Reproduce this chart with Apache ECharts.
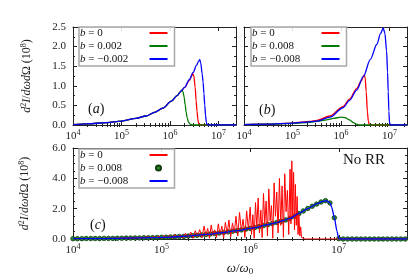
<!DOCTYPE html>
<html><head><meta charset="utf-8">
<script src="https://cdn.jsdelivr.net/npm/echarts@6/dist/echarts.min.js"></script>
<style>html,body{margin:0;padding:0;background:#fff}#c{width:415px;height:277px}</style>
</head><body><div id="c"></div>
<script>
const FONT = 'Liberation Serif';
const RED = '#ff0000', GREEN = '#007a00', BLUE = '#0000ff';

// ---------- Panel (a): omega values and d2I/dwdO (1e8) ----------
const aRedW   = [1e4, 2e4, 5e4, 1e5, 2e5, 3.2e5, 5e5, 7.1e5, 1.07e6, 1.4e6, 1.7e6, 2.0e6, 2.5e6, 2.8e6, 2.96e6, 3.1e6, 3.3e6, 3.45e6, 3.6e6, 3.75e6, 3.9e6, 4.1e6, 2.3e7];
const aRedI   = [0.01, 0.03, 0.06, 0.10, 0.17, 0.23, 0.33, 0.43, 0.61, 0.75, 0.87, 0.96, 1.14, 1.25, 1.31, 1.25, 0.96, 0.62, 0.35, 0.14, 0.03, 0.0, 0.0];
const aGreenW = [1e4, 2e4, 5e4, 1e5, 2e5, 3.2e5, 5e5, 7.1e5, 1.07e6, 1.4e6, 1.6e6, 1.76e6, 1.85e6, 1.95e6, 2.05e6, 2.15e6, 2.25e6, 2.4e6, 2.6e6, 2.9e6, 2.3e7];
const aGreenI = [0.01, 0.03, 0.06, 0.10, 0.17, 0.23, 0.33, 0.43, 0.61, 0.75, 0.83, 0.89, 0.85, 0.72, 0.52, 0.33, 0.19, 0.07, 0.02, 0.0, 0.0];
const aBlueW  = [1e4, 2e4, 5e4, 1e5, 2e5, 3.2e5, 5e5, 7.1e5, 1.07e6, 1.4e6, 1.7e6, 2.0e6, 2.5e6, 3.0e6, 3.5e6, 3.9e6, 4.1e6, 4.3e6, 4.6e6, 4.8e6, 5.0e6, 5.2e6, 5.4e6, 5.6e6, 5.8e6, 6.2e6, 2.3e7];
const aBlueI  = [0.01, 0.03, 0.06, 0.10, 0.17, 0.23, 0.33, 0.43, 0.61, 0.75, 0.87, 0.96, 1.16, 1.34, 1.52, 1.63, 1.67, 1.58, 1.30, 1.10, 0.80, 0.50, 0.25, 0.07, 0.01, 0.0, 0.0];

// ---------- Panel (b) ----------
const bRedW   = [1e4, 3e4, 1e5, 2.3e5, 3.2e5, 5.9e5, 1.1e6, 1.5e6, 2.1e6, 2.6e6, 3.0e6, 3.15e6, 3.3e6, 3.5e6, 3.65e6, 3.8e6, 4.0e6, 2.3e7];
const bRedI   = [0.01, 0.02, 0.05, 0.09, 0.12, 0.23, 0.47, 0.66, 0.93, 1.12, 1.28, 1.20, 0.85, 0.33, 0.10, 0.02, 0.0, 0.0];
const bGreenW = [1e4, 3e4, 1e5, 2.3e5, 3.6e5, 5e5, 7e5, 1.0e6, 1.2e6, 1.5e6, 1.8e6, 2.1e6, 2.4e6, 2.3e7];
const bGreenI = [0.01, 0.02, 0.04, 0.07, 0.10, 0.13, 0.17, 0.20, 0.19, 0.13, 0.06, 0.02, 0.0, 0.0];
const bBlueW  = [1e4, 3e4, 1e5, 2.3e5, 3.2e5, 5.9e5, 1.1e6, 1.5e6, 2.1e6, 2.9e6, 4.0e6, 5.5e6, 6.5e6, 7.4e6, 8.0e6, 8.7e6, 9.1e6, 9.4e6, 9.7e6, 1.0e7, 1.05e7, 2.3e7];
const bBlueI  = [0.01, 0.02, 0.05, 0.08, 0.10, 0.20, 0.44, 0.63, 0.89, 1.24, 1.67, 2.06, 2.33, 2.47, 2.35, 1.89, 1.35, 0.85, 0.35, 0.05, 0.0, 0.0];

// ---------- Panel (c): log10(omega) and values ----------
const cRedLogW = [4.0, 4.2, 4.4, 4.6, 4.7, 4.8, 4.82, 4.85, 4.88, 4.91, 4.94, 4.97, 5.00, 5.03, 5.06, 5.09, 5.12, 5.15, 5.18, 5.21, 5.24, 5.27, 5.30, 5.33, 5.355, 5.38, 5.405, 5.43, 5.455, 5.48, 5.50, 5.52, 5.54, 5.56, 5.58, 5.60, 5.62, 5.64, 5.66, 5.68, 5.70, 5.72, 5.74, 5.76, 5.78, 5.80, 5.82, 5.84, 5.86, 5.88, 5.90, 5.92, 5.94, 5.96, 5.98, 6.00, 6.015, 6.03, 6.045, 6.06, 6.075, 6.09, 6.105, 6.12, 6.135, 6.15, 6.165, 6.18, 6.195, 6.21, 6.225, 6.24, 6.255, 6.27, 6.285, 6.30, 6.315, 6.33, 6.345, 6.36, 6.375, 6.39, 6.405, 6.42, 6.435, 6.45, 6.46, 6.47, 6.48, 6.49, 6.50, 6.51, 6.52, 6.53, 6.54, 6.55, 6.56, 6.57, 6.58, 6.60, 6.62, 7.77];
const cRedI    = [0.02, 0.03, 0.04, 0.06, 0.07, 0.09, 0.04, 0.14, 0.05, 0.16, 0.06, 0.18, 0.04, 0.22, 0.08, 0.25, 0.05, 0.30, 0.10, 0.28, 0.06, 0.38, 0.12, 0.45, 0.05, 0.55, 0.15, 0.62, 0.08, 0.85, 0.20, 0.70, 0.05, 0.92, 0.25, 0.60, 0.10, 1.00, 0.30, 0.85, 0.08, 1.10, 0.35, 1.25, 0.15, 1.05, 0.40, 1.50, 0.20, 1.75, 0.55, 1.30, 0.10, 1.85, 0.60, 2.10, 0.30, 1.60, 0.05, 2.40, 0.80, 2.70, 0.40, 1.90, 0.10, 3.00, 1.00, 2.50, 0.20, 3.30, 1.20, 2.20, 0.05, 3.70, 1.50, 3.10, 0.40, 4.00, 0.90, 3.50, 0.10, 4.30, 1.80, 3.20, 0.30, 4.60, 1.00, 5.15, 1.40, 4.40, 0.60, 3.60, 0.90, 2.80, 0.30, 1.60, 0.20, 0.80, 0.10, 0.02, 0.0, 0.0];
const cDotLogW = [4.00, 4.05, 4.10, 4.15, 4.20, 4.25, 4.30, 4.35, 4.40, 4.45, 4.50, 4.55, 4.60, 4.65, 4.70, 4.75, 4.80, 4.85, 4.90, 4.95, 5.00, 5.05, 5.10, 5.15, 5.20, 5.25, 5.30, 5.35, 5.40, 5.45, 5.50, 5.55, 5.60, 5.65, 5.70, 5.75, 5.80, 5.85, 5.90, 5.95, 6.00, 6.05, 6.10, 6.15, 6.20, 6.25, 6.30, 6.35, 6.40, 6.45, 6.50, 6.55, 6.60, 6.65, 6.70, 6.75, 6.80, 6.85, 6.90, 6.95, 7.00, 7.05, 7.10, 7.15, 7.20, 7.25, 7.30, 7.35, 7.40, 7.45, 7.50, 7.55, 7.60, 7.65, 7.70, 7.75];
const cDotI    = [0.02, 0.02, 0.02, 0.03, 0.03, 0.03, 0.03, 0.04, 0.04, 0.04, 0.05, 0.05, 0.06, 0.06, 0.07, 0.07, 0.08, 0.08, 0.09, 0.10, 0.11, 0.12, 0.13, 0.15, 0.16, 0.17, 0.19, 0.22, 0.24, 0.27, 0.30, 0.33, 0.36, 0.39, 0.43, 0.47, 0.51, 0.55, 0.60, 0.65, 0.70, 0.75, 0.82, 0.89, 0.95, 1.02, 1.09, 1.17, 1.26, 1.36, 1.50, 1.68, 1.85, 2.01, 2.16, 2.30, 2.44, 2.53, 2.38, 1.40, 0.02, 0, 0, 0, 0, 0, 0, 0, 0, 0, 0, 0, 0, 0, 0, 0];
const cBlueLogW = [4.0, 4.3, 4.6, 4.9, 5.1, 5.32, 5.5, 5.69, 5.85, 6.0, 6.07, 6.18, 6.3, 6.37, 6.45, 6.56, 6.65, 6.75, 6.82, 6.86, 6.90, 6.92, 6.95, 6.98, 7.0, 7.01, 7.77];
const cBlueI    = [0.02, 0.03, 0.06, 0.09, 0.13, 0.20, 0.30, 0.42, 0.55, 0.70, 0.77, 0.93, 1.08, 1.21, 1.36, 1.72, 2.00, 2.31, 2.48, 2.53, 2.38, 2.10, 1.40, 0.50, 0.02, 0.0, 0.0];

// ---------- ticks / labels ----------
const xTickExps = [4, 5, 6, 7];
const yTicksAB = [0, 0.5, 1.0, 1.5, 2.0, 2.5];
const yTicksC = [0, 2, 4, 6];
const legendA = ['b = 0', 'b = 0.002', 'b = \u22120.002'];
const legendB = ['b = 0', 'b = 0.008', 'b = \u22120.008'];
const legendC = ['b = 0', 'b = 0.008', 'b = \u22120.008'];

function pairs(w, v) { return w.map((x, i) => [x, v[i]]); }
function pairsExp(e, v) { return e.map((x, i) => [Math.pow(10, x), v[i]]); }

const grids = [
  { left: 73, top: 27, width: 163, height: 98 },
  { left: 244, top: 27, width: 163, height: 98 },
  { left: 73, top: 148, width: 334, height: 91 }
];
const xMaxs = [Math.pow(10, 7.36), Math.pow(10, 7.36), Math.pow(10, 7.77)];
const yCfg = [
  { ticks: yTicksAB, minorSplit: 2, labels: true },
  { ticks: yTicksAB, minorSplit: 2, labels: false },
  { ticks: yTicksC, minorSplit: 4, labels: true }
];

const majorVals = xTickExps.map(e => Math.pow(10, e));
function minorVals(maxV) {
  const out = [];
  xTickExps.forEach(e => { for (let m = 2; m <= 9; m++) { const v = m * Math.pow(10, e); if (v < maxV) out.push(v); } });
  return out;
}
const AX = '#222';
const supRich = {
  b: { fontFamily: FONT, fontSize: 11, color: AX, lineHeight: 14 },
  s: { fontFamily: FONT, fontSize: 8, color: AX, lineHeight: 7, verticalAlign: 'top' }
};

const xAxes = [], yAxes = [];
grids.forEach((g, gi) => {
  const base = {
    type: 'log', logBase: 10, gridIndex: gi, min: 1e4, max: xMaxs[gi],
    splitLine: { show: false },
    axisLine: { show: true, onZero: false, lineStyle: { color: AX, width: 1 } }
  };
  const majTick = { show: true, inside: true, length: 4, customValues: majorVals, lineStyle: { color: AX, width: 1 } };
  const minTick = { show: true, inside: true, length: 2, customValues: minorVals(xMaxs[gi]), lineStyle: { color: AX, width: 1 } };
  xAxes.push(Object.assign({}, base, {
    position: 'bottom', axisTick: majTick,
    axisLabel: { show: true, customValues: majorVals, margin: 4,
      formatter: v => '{b|10}{s|' + Math.round(Math.log10(v)) + '}', rich: supRich },
    name: gi === 2 ? '{i|\u03c9}{r|/}{i|\u03c9}{u|0}' : '',
    nameLocation: 'middle', nameGap: 22,
    nameTextStyle: { rich: {
      i: { fontFamily: FONT, fontStyle: 'italic', fontSize: 13, color: AX, lineHeight: 15 },
      r: { fontFamily: FONT, fontSize: 13, color: AX, lineHeight: 15 },
      u: { fontFamily: FONT, fontSize: 9, color: AX, lineHeight: 8, verticalAlign: 'bottom' } } }
  }));
  xAxes.push(Object.assign({}, base, { position: 'bottom', axisLine: { show: false }, axisTick: minTick, axisLabel: { show: false } }));
  xAxes.push(Object.assign({}, base, { position: 'top', axisTick: majTick, axisLabel: { show: false } }));
  xAxes.push(Object.assign({}, base, { position: 'top', axisLine: { show: false }, axisTick: minTick, axisLabel: { show: false } }));

  const yc = yCfg[gi];
  const ybase = {
    type: 'value', gridIndex: gi, min: yc.ticks[0], max: yc.ticks[yc.ticks.length - 1],
    interval: yc.ticks[1] - yc.ticks[0],
    splitLine: { show: false },
    axisLine: { show: true, lineStyle: { color: AX, width: 1 } },
    axisTick: { show: true, inside: true, length: 4, lineStyle: { color: AX, width: 1 } },
    minorTick: { show: true, splitNumber: yc.minorSplit, length: 2, lineStyle: { color: AX, width: 1 } }
  };
  yAxes.push(Object.assign({}, ybase, {
    position: 'left',
    axisLabel: { show: yc.labels, margin: 7, fontFamily: FONT, fontSize: 11, color: AX, formatter: v => v.toFixed(1) },
    name: yc.labels ? '{i|d}{s|2}{i|I}{r|/}{i|d\u03c9d}{r|\u03a9 (10}{s|8}{r|)}' : '',
    nameLocation: 'middle', nameRotate: 90, nameGap: gi === 2 ? 41 : 39,
    nameTextStyle: { rich: {
      i: { fontFamily: FONT, fontStyle: 'italic', fontSize: 12, color: AX, lineHeight: 14 },
      r: { fontFamily: FONT, fontSize: 12, color: AX, lineHeight: 14 },
      s: { fontFamily: FONT, fontSize: 8, color: AX, lineHeight: 7, verticalAlign: 'top' } } }
  }));
  yAxes.push(Object.assign({}, ybase, { position: 'right', axisLabel: { show: false } }));
});

function lineSeries(name, gi, data, color) {
  return { type: 'line', name: name, xAxisIndex: gi * 4, yAxisIndex: gi * 2, data: data,
    symbol: 'none', smooth: 0.3, smoothMonotone: 'x', silent: true,
    lineStyle: { color: color, width: 1.3 }, itemStyle: { color: color } };
}
const series = [
  lineSeries('a|' + legendA[0], 0, pairs(aRedW, aRedI), RED),
  lineSeries('a|' + legendA[1], 0, pairs(aGreenW, aGreenI), GREEN),
  lineSeries('a|' + legendA[2], 0, pairs(aBlueW, aBlueI), BLUE),
  lineSeries('b|' + legendB[0], 1, pairs(bRedW, bRedI), RED),
  lineSeries('b|' + legendB[1], 1, pairs(bGreenW, bGreenI), GREEN),
  lineSeries('b|' + legendB[2], 1, pairs(bBlueW, bBlueI), BLUE),
  Object.assign(lineSeries('c|' + legendC[0], 2, pairsExp(cRedLogW, cRedI), RED), { smooth: false, lineStyle: { color: RED, width: 1 } }),
  { type: 'scatter', name: 'c|' + legendC[1], xAxisIndex: 8, yAxisIndex: 4, data: pairsExp(cDotLogW, cDotI),
    symbol: 'circle', symbolSize: 4.5, silent: true,
    itemStyle: { color: '#2c8c2c', borderColor: '#0d3d0d', borderWidth: 0.8, opacity: 1 } },
  Object.assign(lineSeries('c|' + legendC[2], 2, pairsExp(cBlueLogW, cBlueI), BLUE), { smooth: 0.2 })
];

function legendFmt(name) {
  const s = name.split('|')[1];
  return '{i|b}{t|' + s.slice(1) + '}';
}
function legend(left, top, items, itemH) {
  return {
    orient: 'vertical', left: left, top: top, padding: [0, 6, 1, 1], itemGap: 1,
    itemWidth: 18, itemHeight: itemH, align: 'right', selectedMode: false,
    borderColor: '#a8a8a8', borderWidth: 1.5, backgroundColor: 'rgba(255,255,255,0.85)',
    formatter: legendFmt,
    textStyle: { fontFamily: FONT, fontSize: 11, color: '#111', lineHeight: 12,
      rich: { i: { fontFamily: FONT, fontStyle: 'italic', fontSize: 11, color: '#111', lineHeight: 12, align: 'left' },
              t: { fontFamily: FONT, fontSize: 11, color: '#111', lineHeight: 12, width: 59, align: 'left' } } },
    data: items
  };
}
function lineItem(name) { return { name: name, itemStyle: { opacity: 0 } }; }

const richLbl = {
  r: { fontFamily: FONT, fontSize: 14, fill: '#111' },
  i: { fontFamily: FONT, fontSize: 14, fontStyle: 'italic', fill: '#111' }
};
function lbl(x, y, letter) {
  return { type: 'text', left: x, top: y, silent: true,
    style: { text: '{r|(}{i|' + letter + '}{r|)}', rich: richLbl, fontFamily: FONT, fontSize: 14 } };
}

const chart = echarts.init(document.getElementById('c'), null, { renderer: 'canvas' });
chart.setOption({
  animation: false,
  backgroundColor: '#fff',
  grid: grids,
  xAxis: xAxes,
  yAxis: yAxes,
  legend: [
    legend(79, 27, legendA.map(n => lineItem('a|' + n)), 10),
    legend(251, 27, legendB.map(n => lineItem('b|' + n)), 10),
    legend(79, 149, [lineItem('c|' + legendC[0]), { name: 'c|' + legendC[1] }, lineItem('c|' + legendC[2])], 5)
  ],
  series: series,
  graphic: [
    lbl(88, 102, 'a'),
    lbl(259, 103, 'b'),
    lbl(90, 218, 'c'),
    { type: 'text', left: 343, top: 153, silent: true,
      style: { text: 'No RR', fontFamily: FONT, fontSize: 15, fill: '#111' } }
  ]
});
</script>
</body></html>
